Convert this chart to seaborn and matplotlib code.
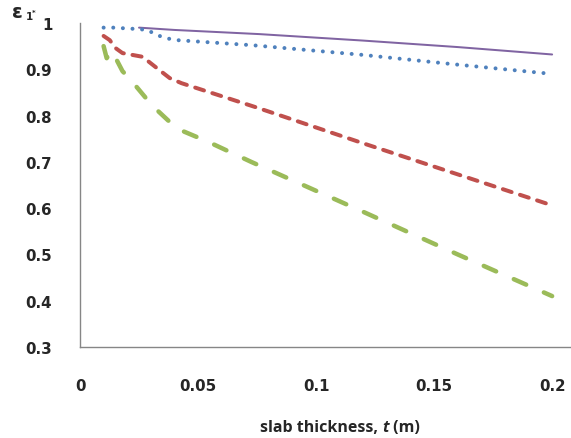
import matplotlib
matplotlib.use("Agg")
import matplotlib.pyplot as plt
import seaborn as sns
import pandas as pd

# slab thickness t (m) and effectiveness for each of the four cases
t_a = [0.025, 0.04, 0.076, 0.12, 0.16, 0.2]
eps_a = [0.990, 0.985, 0.976, 0.962, 0.948, 0.932]

t_b = [0.01, 0.015, 0.02, 0.025, 0.029, 0.032, 0.0366, 0.041, 0.073, 0.12, 0.16, 0.2]
eps_b = [0.990, 0.990, 0.988, 0.987, 0.984, 0.975, 0.967, 0.963, 0.952, 0.931, 0.910, 0.890]

t_c = [0.01, 0.0126, 0.015, 0.018, 0.0265, 0.0337, 0.038, 0.043, 0.0745, 0.12, 0.16, 0.2]
eps_c = [0.972, 0.963, 0.946, 0.935, 0.927, 0.898, 0.881, 0.870, 0.818, 0.740, 0.673, 0.606]

t_d = [0.01, 0.0113, 0.0135, 0.018, 0.022, 0.0305, 0.041, 0.054, 0.0725, 0.12, 0.16, 0.2]
eps_d = [0.950, 0.924, 0.940, 0.896, 0.874, 0.822, 0.772, 0.744, 0.700, 0.592, 0.500, 0.410]

x_ticks = [0, 0.05, 0.1, 0.15, 0.2]
x_tick_labels = ["0", "0.05", "0.1", "0.15", "0.2"]
y_ticks = [0.3, 0.4, 0.5, 0.6, 0.7, 0.8, 0.9, 1.0]
y_tick_labels = ["0.3", "0.4", "0.5", "0.6", "0.7", "0.8", "0.9", "1"]

sns.set_theme(style="white")
plt.rcParams["font.family"] = ["DejaVu Sans"]

fig = plt.figure(figsize=(5.71, 4.39), dpi=100)
ax = fig.add_axes([80 / 571, 1 - 348 / 439, 1 - 80 / 571, (348 - 24) / 439])

px = 0.72  # points per pixel at 100 dpi

series = [
    (t_a, eps_a, "#8064A2", 2.0, "-"),
    (t_b, eps_b, "#4F81BD", 4.0, (0, (0.01, 2.4))),
    (t_c, eps_c, "#C0504D", 4.0, (0, (2.3, 2.2))),
    (t_d, eps_d, "#9BBB59", 4.5, (0, (3.0, 4.3))),
]

for xs, ys, color, lw, ls in series:
    df = pd.DataFrame({"t": xs, "eps": ys})
    sns.lineplot(data=df, x="t", y="eps", ax=ax, color=color,
                 linewidth=lw * px, linestyle=ls, estimator=None, sort=False,
                 dash_capstyle="round", solid_capstyle="round")

ax.set_xlim(0, 0.208)
ax.set_ylim(0.3, 1.0)
ax.set_xticks(x_ticks)
ax.set_xticklabels(x_tick_labels)
ax.set_yticks(y_ticks)
ax.set_yticklabels(y_tick_labels)
ax.tick_params(axis="both", length=0, labelsize=10.8)
ax.tick_params(axis="y", pad=20)
ax.tick_params(axis="x", pad=22)
for lab in ax.get_xticklabels() + ax.get_yticklabels():
    lab.set_fontweight("bold")
    lab.set_family(["DejaVu Sans"])

for side in ["top", "right"]:
    ax.spines[side].set_visible(False)
for side in ["left", "bottom"]:
    ax.spines[side].set_color("#868686")
    ax.spines[side].set_linewidth(1.0)

ax.set_xlabel("")
ax.set_ylabel("")

# x-axis title assembled from pieces so the symbol t can be italic
label_font = dict(fontsize=11.5, fontweight="bold", family=["Open Sans", "DejaVu Sans"])
pieces = [("slab thickness, ", "normal"), ("t", "italic"), (" (m)", "normal")]
renderer = fig.canvas.get_renderer()
texts = []
for s, style in pieces:
    tx = fig.text(0, 1 - 428 / 439, s, ha="left", va="center", style=style, **label_font)
    texts.append(tx)
widths = [tx.get_window_extent(renderer).width for tx in texts]
total = sum(widths)
x0 = 340 - total / 2
for tx, w in zip(texts, widths):
    tx.set_x(x0 / 571)
    x0 += w

# y-axis symbol in the top-left corner
fig.text(12 / 571, 1 - 12 / 439, "ε", ha="left", va="center",
         fontsize=14, fontweight="bold", family=["DejaVu Sans"])
fig.text(25.5 / 571, 1 - 17 / 439, "1", ha="left", va="center",
         fontsize=7.5, fontweight="bold", family=["DejaVu Sans"])
fig.text(31.5 / 571, 1 - 13 / 439, "*", ha="left", va="center",
         fontsize=5, fontweight="bold", family=["DejaVu Sans"])

fig.savefig("out.png", dpi=100)
